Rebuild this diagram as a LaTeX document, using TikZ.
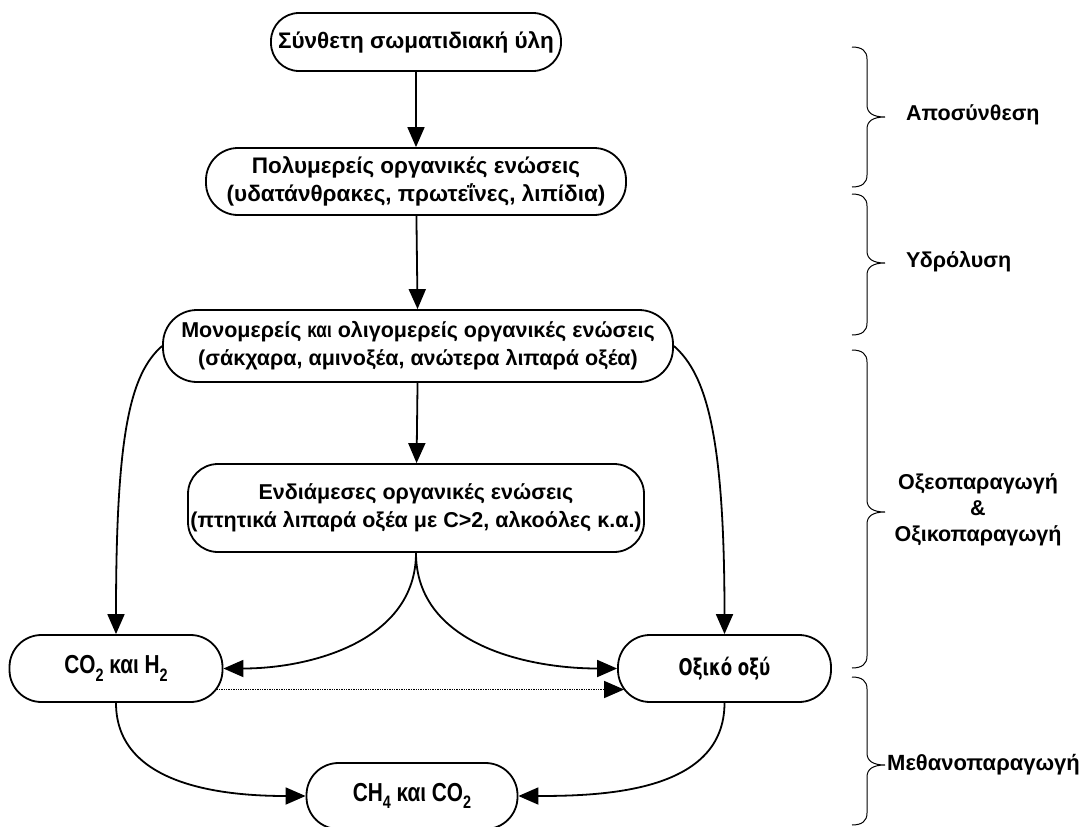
\documentclass[tikz,border=0pt]{standalone}
\usepackage{fontspec}
\setmainfont{Liberation Sans}
\newfontfamily\acidfont{DejaVu Sans}
\usepackage{graphicx}
\usetikzlibrary{arrows.meta}
% condensed lettering
\newcommand{\narrow}[1]{\scalebox{0.8}[1]{#1}}
% chemical subscript digit
\newcommand{\sbs}[1]{\raisebox{-0.28em}{\fontsize{18}{18}\selectfont #1}}
% curly brace opening to the right: top y, tip y, bottom y
\newcommand{\phasebrace}[3]{%
  \draw[phase] (852,#1) .. controls (862,#1) and (867,#1+4) .. (867,#1+12)
    -- (867,#2-12) .. controls (867,#2-4) and (873,#2) .. (885,#2)
    .. controls (873,#2) and (867,#2+4) .. (867,#2+12)
    -- (867,#3-12) .. controls (867,#3-4) and (862,#3) .. (852,#3);}
\begin{document}
\begin{tikzpicture}[x=1pt,y=-1pt,
  font=\fontsize{21.5}{28}\selectfont\bfseries,
  stage/.style={draw,line width=1.8pt,rectangle,rounded corners=#1,align=center,inner sep=0pt},
  stage/.default=30pt,
  bigtext/.style={font=\fontsize{22.5}{28}\selectfont\bfseries},
  product/.style={stage=32pt,font=\fontsize{26}{28}\selectfont\bfseries},
  flow/.style={line width=1.8pt,-{Triangle[length=20pt,width=17pt]}},
  phase/.style={line width=1pt},
  phaselabel/.style={align=center,inner sep=0pt},
]
\useasboundingbox (0,0) rectangle (1087,827);

% process stages
\node[stage=28pt,bigtext,minimum width=290pt,minimum height=58pt] (n1) at (416,42) {Σύνθετη σωματιδιακή ύλη};
\node[stage=32pt,bigtext,minimum width=420pt,minimum height=67pt] (n2) at (416,181.5) {Πολυμερείς οργανικές ενώσεις\\(υδατάνθρακες, πρωτεΐνες, λιπίδια)};
\node[stage=34pt,minimum width=510pt,minimum height=72pt] (n3) at (418,346) {Μονομερείς \narrow{και} ολιγομερείς οργανικές ενώσεις\\(σάκχαρα, αμινοξέα, ανώτερα λιπαρά οξέα)};
\node[stage=30pt,minimum width=456pt,minimum height=88pt] (n4) at (416,508) {Ενδιάμεσες οργανικές ενώσεις\\(πτητικά λιπαρά οξέα με C>2, αλκοόλες κ.α.)};
\node[product,minimum width=213pt,minimum height=67pt] (co2) at (116,668.5) {\narrow{CO\sbs{2} και H\sbs{2}}};
\node[stage=32pt,minimum width=213pt,minimum height=67pt] (oxy) at (724.5,668.5) {\scalebox{0.72}[1]{\acidfont\fontsize{23}{24}\selectfont\bfseries Οξικό οξύ}};
\node[product,minimum width=211pt,minimum height=66pt] (ch4) at (412,796) {\narrow{CH\sbs{4} και CO\sbs{2}}};

% conversions
\draw[flow] (n1) -- (n2);
\draw[flow] (n2) -- (n3);
\draw[flow] (n3) -- (n4);
\draw[flow] (n3.west) .. controls +(-32,28) and +(0,-200) .. (co2.north);
\draw[flow] (n3.east) .. controls +(32,28) and +(0,-200) .. (oxy.north);
\draw[flow] (n4.south) to[out=-90,in=0] (co2.east);
\draw[flow] (n4.south) to[out=-90,in=180] (oxy.west);
\draw[flow,line width=1.4pt,densely dotted] ([xshift=-7pt,yshift=-21pt]co2.east) -- ([xshift=7pt,yshift=-21pt]oxy.west);
\draw[flow] (co2.south) to[out=-90,in=180] (ch4.west);
\draw[flow] (oxy.south) to[out=-90,in=0] (ch4.east);

% phases
\phasebrace{47}{117}{187}
\phasebrace{194}{263}{335}
\phasebrace{350}{512}{668}
\phasebrace{677}{765}{825}
\node[phaselabel,anchor=west] (p1) at (906,115) {Αποσύνθεση};
\node[phaselabel,anchor=west] (p2) at (906,262) {Υδρόλυση};
\node[phaselabel,font=\fontsize{21.5}{26}\selectfont\bfseries] (p3) at (978,510) {Οξεοπαραγωγή\\\&\\Οξικοπαραγωγή};
\node[phaselabel,anchor=west,font=\fontsize{22}{26}\selectfont\bfseries] (p4) at (887,765) {Μεθανοπαραγωγή};
\end{tikzpicture}
\end{document}
